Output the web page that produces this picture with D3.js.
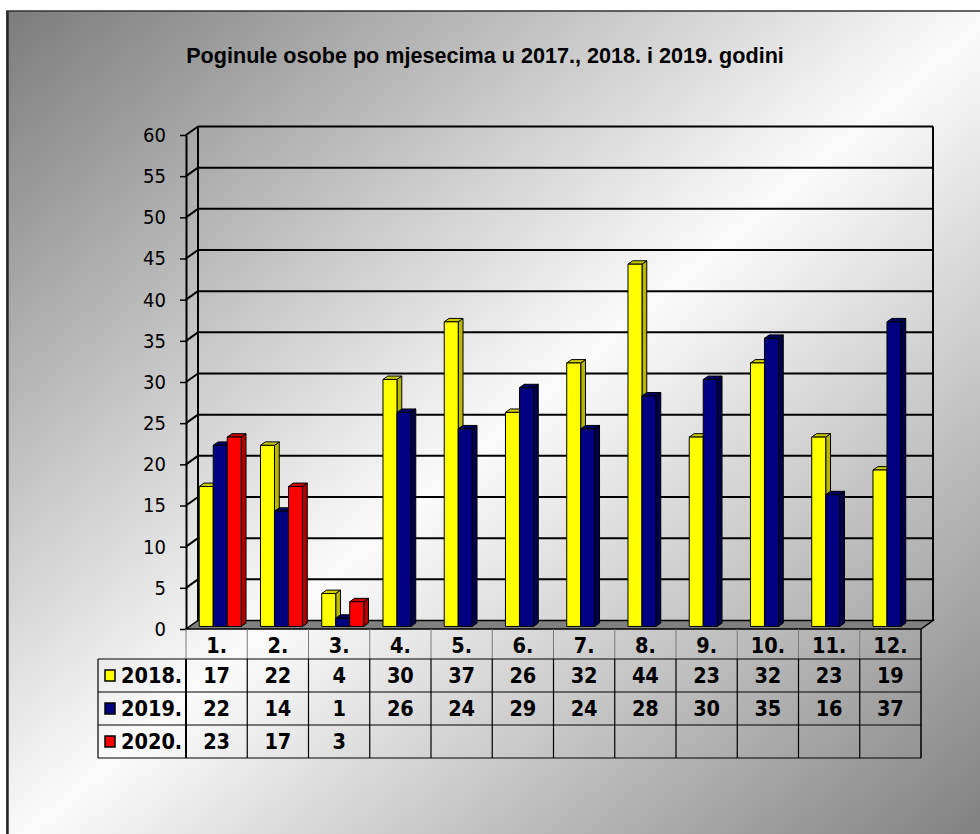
<!DOCTYPE html>
<html>
<head>
<meta charset="utf-8">
<script src="https://cdn.jsdelivr.net/npm/d3@7"></script>
<style>
  html, body { margin: 0; padding: 0; background: #fff; }
  svg { display: block; }
  .cond { font-family: "DejaVu Sans Condensed", "DejaVu Sans", sans-serif; font-stretch: condensed; }
</style>
</head>
<body>
<script>
// Chart values
const months = ['1.', '2.', '3.', '4.', '5.', '6.', '7.', '8.', '9.', '10.', '11.', '12.']
const series = ['2018.', '2019.', '2020.']
const values2018 = [17, 22, 4, 30, 37, 26, 32, 44, 23, 32, 23, 19]
const values2019 = [22, 14, 1, 26, 24, 29, 24, 28, 30, 35, 16, 37]
const values2020 = [23, 17, 3]
const yTicks = [0, 5, 10, 15, 20, 25, 30, 35, 40, 45, 50, 55, 60]
const title = 'Poginule osobe po mjesecima u 2017., 2018. i 2019. godini'

const seriesValues = [values2018, values2019, values2020]
const colours = [
  {front: '#ffff00', side: '#b8b800', top: '#cccc00'},
  {front: '#000080', side: '#00004c', top: '#000066'},
  {front: '#ff0000', side: '#b00000', top: '#cc0000'}
]

const width = 980
const height = 834
// 3D depth of the walls
const depth = {dx: 12, dy: -8.5}

const svg = d3.select('body').append('svg')
  .attr('width', width)
  .attr('height', height)

// Background gradient
const grad = svg.append('defs').append('linearGradient')
  .attr('id', 'bg')
  .attr('x1', 0).attr('y1', 0).attr('x2', 1).attr('y2', 1)
grad.append('stop').attr('offset', 0).attr('stop-color', '#7c7c7c')
grad.append('stop').attr('offset', 0.5).attr('stop-color', '#fbfbfb')
grad.append('stop').attr('offset', 1).attr('stop-color', '#7c7c7c')

svg.append('rect')
  .attr('x', 7).attr('y', 11)
  .attr('width', 990).attr('height', 840)
  .attr('fill', 'url(#bg)')
  .attr('stroke', '#333')
  .attr('stroke-width', 1.5)
svg.append('line')
  .attr('x1', 7.5).attr('x2', 7.5)
  .attr('y1', 11).attr('y2', height)
  .attr('stroke', '#2a2a2a')
  .attr('stroke-width', 2.5)

// Title, fitted to width of the original
const tTitle = svg.append('text')
  .attr('x', 485)
  .attr('y', 63)
  .attr('text-anchor', 'middle')
  .style('font-family', '"Liberation Sans", Arial, sans-serif')
  .style('font-weight', 'bold')
  .style('font-size', '19px')
  .text(title)
const tl = tTitle.node().getComputedTextLength()
tTitle.style('font-size', (19 * 598 / tl) + 'px')

// Scales
const y = d3.scaleLinear().domain([0, 60]).range([629, 135])
const x0 = d3.scaleBand().domain(months).range([186, 921]).padding(0)
const x1 = d3.scaleBand().domain(series).range([0, x0.bandwidth()])
  .paddingInner(0).paddingOuter(0.6875)

const xL = x0.range()[0]
const xR = x0.range()[1]
const y0 = y(0)

// Floor
svg.append('path')
  .attr('d', `M${xL},${y0} L${xR},${y0} L${xR + depth.dx},${y0 + depth.dy} L${xL + depth.dx},${y0 + depth.dy} Z`)
  .attr('fill', '#808080')
  .attr('stroke', '#000')
  .attr('stroke-width', 1.5)

// Gridlines: back wall and side wall
const gGrid = svg.append('g')
  .attr('stroke', '#000')
  .attr('stroke-width', 2)
  .attr('fill', 'none')
gGrid.selectAll('.back')
  .data(yTicks.filter(d => d > 0))
  .join('line')
  .attr('x1', xL + depth.dx).attr('x2', xR + depth.dx)
  .attr('y1', d => y(d) + depth.dy).attr('y2', d => y(d) + depth.dy)
gGrid.selectAll('.side')
  .data(yTicks.filter(d => d > 0))
  .join('line')
  .attr('x1', xL).attr('x2', xL + depth.dx)
  .attr('y1', d => y(d)).attr('y2', d => y(d) + depth.dy)
gGrid.append('line')
  .attr('x1', xL + depth.dx).attr('x2', xL + depth.dx)
  .attr('y1', y(60) + depth.dy).attr('y2', y0 + depth.dy)
gGrid.append('line')
  .attr('x1', xR + depth.dx).attr('x2', xR + depth.dx)
  .attr('y1', y(60) + depth.dy).attr('y2', y0 + depth.dy)

// Left axis
const lAxis = svg.append('g')
  .attr('transform', `translate(${xL},0)`)
  .call(d3.axisLeft(y).tickValues(yTicks).tickSize(6).tickSizeOuter(0).tickPadding(14))
lAxis.select('.domain').attr('stroke', '#000').attr('stroke-width', 2)
lAxis.selectAll('.tick line').attr('stroke', '#000').attr('stroke-width', 1.5)
lAxis.selectAll('.tick text')
  .attr('class', 'cond')
  .attr('fill', '#000')
  .style('font-size', '20px')
lAxis.attr('font-family', null).attr('font-size', null)

// Bars: front face sits at 0.3 of the depth, back face at 0.7
const fFront = 0.3
const fBack = 0.7
const barData = []
months.forEach((m, i) => {
  series.forEach((s, j) => {
    const v = seriesValues[j][i]
    if (v === undefined) return
    const xa = x0(m) + x1(s) + depth.dx * fFront
    const yb = y0 + depth.dy * fFront
    const yt = y(v) + depth.dy * fFront
    barData.push({month: m, series: s, value: v, j: j,
      x: xa, w: x1.bandwidth(), yb: yb, yt: yt,
      ddx: depth.dx * (fBack - fFront), ddy: depth.dy * (fBack - fFront)})
  })
})

const gBars = svg.append('g')
  .attr('stroke', '#000')
  .attr('stroke-width', 1)
  .attr('stroke-linejoin', 'round')
const bar = gBars.selectAll('.bar')
  .data(barData)
  .join('g')
  .attr('class', 'bar')
bar.append('path')
  .attr('d', d => `M${d.x + d.w},${d.yb} L${d.x + d.w + d.ddx},${d.yb + d.ddy} L${d.x + d.w + d.ddx},${d.yt + d.ddy} L${d.x + d.w},${d.yt} Z`)
  .attr('fill', d => colours[d.j].side)
bar.append('path')
  .attr('d', d => `M${d.x},${d.yt} L${d.x + d.ddx},${d.yt + d.ddy} L${d.x + d.w + d.ddx},${d.yt + d.ddy} L${d.x + d.w},${d.yt} Z`)
  .attr('fill', d => colours[d.j].top)
bar.append('rect')
  .attr('x', d => d.x)
  .attr('y', d => d.yt)
  .attr('width', d => d.w)
  .attr('height', d => d.yb - d.yt)
  .attr('fill', d => colours[d.j].front)
bar.append('title').text(d => `${d.series} ${d.month}: ${d.value}`)

// Data table
const rowH = 33
const headTop = y0
const headBottom = 659
const legendLeft = 98
const rowTops = series.map((s, j) => headBottom + j * rowH)
const tableBottom = headBottom + series.length * rowH

const gTable = svg.append('g')

// header cell separators (grey)
gTable.selectAll('.hsep')
  .data(months)
  .join('line')
  .attr('x1', d => x0(d)).attr('x2', d => x0(d))
  .attr('y1', headTop).attr('y2', headBottom)
  .attr('stroke', '#7a7a7a')
  .attr('stroke-width', 1)

// body vertical lines
gTable.selectAll('.vsep')
  .data(months.slice(1))
  .join('line')
  .attr('x1', d => x0(d)).attr('x2', d => x0(d))
  .attr('y1', headBottom).attr('y2', tableBottom)
  .attr('stroke', '#000')
  .attr('stroke-width', 1.2)
gTable.append('line')
  .attr('x1', xL).attr('x2', xL)
  .attr('y1', headBottom).attr('y2', tableBottom)
  .attr('stroke', '#000').attr('stroke-width', 2)
gTable.append('line')
  .attr('x1', legendLeft).attr('x2', legendLeft)
  .attr('y1', headBottom).attr('y2', tableBottom)
  .attr('stroke', '#000').attr('stroke-width', 1.2)
gTable.append('line')
  .attr('x1', xR).attr('x2', xR)
  .attr('y1', headTop).attr('y2', tableBottom)
  .attr('stroke', '#000').attr('stroke-width', 1.5)

// horizontal lines
gTable.selectAll('.hline')
  .data([...rowTops, tableBottom])
  .join('line')
  .attr('x1', legendLeft).attr('x2', xR)
  .attr('y1', d => d).attr('y2', d => d)
  .attr('stroke', '#000')
  .attr('stroke-width', 1.2)

const tableFont = sel => sel
  .attr('class', 'cond')
  .style('font-weight', 'bold')
  .style('font-size', '21.5px')
  .attr('fill', '#000')
  .attr('text-anchor', 'middle')

// month labels
gTable.selectAll('.mlabel')
  .data(months)
  .join('text')
  .attr('x', d => x0(d) + x0.bandwidth() / 2)
  .attr('y', 653)
  .call(tableFont)
  .text(d => d)

// legend cells
const legend = gTable.selectAll('.legend')
  .data(series)
  .join('g')
  .attr('transform', (d, j) => `translate(0,${rowTops[j]})`)
legend.append('rect')
  .attr('x', 105).attr('y', 11)
  .attr('width', 10).attr('height', 11)
  .attr('fill', (d, j) => colours[j].front)
  .attr('stroke', '#000')
  .attr('stroke-width', 1.5)
legend.append('text')
  .attr('x', 121)
  .attr('y', 24)
  .call(tableFont)
  .attr('text-anchor', 'start')
  .text(d => d)

// values
series.forEach((s, j) => {
  gTable.selectAll(`.val${j}`)
    .data(seriesValues[j])
    .join('text')
    .attr('x', (d, i) => x0(months[i]) + x0.bandwidth() / 2)
    .attr('y', rowTops[j] + 24)
    .call(tableFont)
    .text(d => d)
})
</script>
</body>
</html>
